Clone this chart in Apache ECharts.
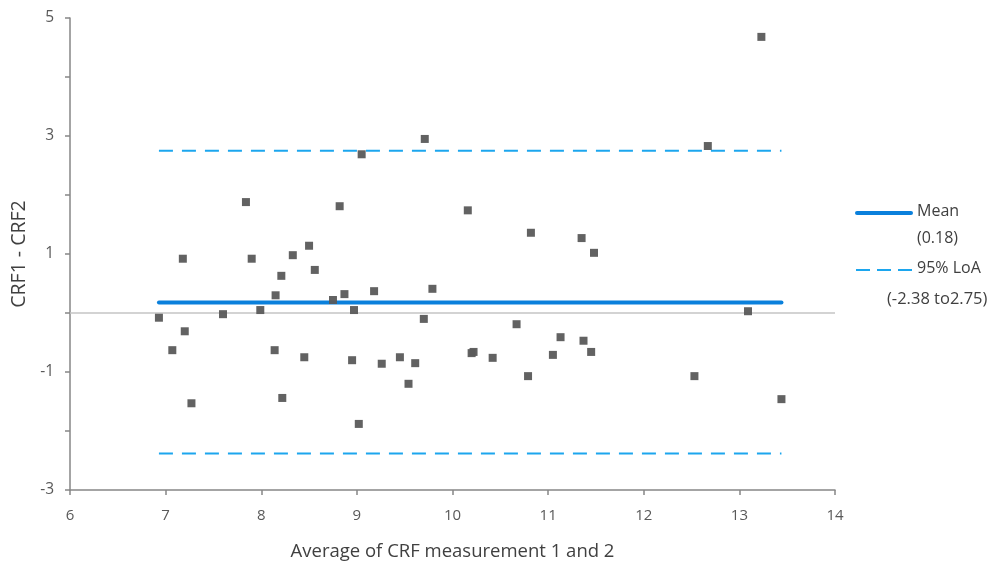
<!DOCTYPE html>
<html>
<head>
<meta charset="utf-8">
<script src="https://cdn.jsdelivr.net/npm/echarts@6/dist/echarts.min.js"></script>
<style>
html,body{margin:0;padding:0;background:#fff;}
#c{width:1005px;height:568px;}
</style>
</head>
<body>
<div id="c"></div>
<script>
// Average of measurement 1 and 2 (x) and difference CRF1 - CRF2 (y)
const avgValues = [6.93,7.07,7.18,7.20,7.27,7.60,7.84,7.90,7.99,8.14,8.15,8.21,8.22,8.33,8.45,8.50,8.56,8.75,8.82,8.87,
  8.95,8.97,9.02,9.05,9.18,9.26,9.45,9.54,9.61,9.71,9.70,9.79,10.16,10.20,10.22,10.42,10.67,10.79,10.82,11.05,
  11.13,11.35,11.37,11.45,11.48,12.53,12.67,13.09,13.23,13.44];
const diffValues = [-0.08,-0.63,0.92,-0.31,-1.53,-0.02,1.88,0.92,0.05,-0.63,0.30,0.63,-1.44,0.98,-0.75,1.14,0.73,0.22,1.81,0.32,
  -0.80,0.05,-1.88,2.69,0.37,-0.86,-0.75,-1.20,-0.85,2.95,-0.10,0.41,1.74,-0.68,-0.66,-0.76,-0.19,-1.07,1.36,-0.71,
  -0.41,1.27,-0.47,-0.66,1.02,-1.07,2.83,0.03,4.68,-1.46];
const meanDiff = 0.18;
const loaLower = -2.38;
const loaUpper = 2.75;
const xTicks = [6,7,8,9,10,11,12,13,14];
const yTicks = [-3,-1,1,3,5];
const legendNames = ['Mean','95% LoA'];
const legendValueTexts = ['(0.18)','(-2.38 to2.75)'];

const points = avgValues.map((x,i)=>[x, diffValues[i]]);
const xMinData = Math.min(...avgValues), xMaxData = Math.max(...avgValues);
const FONT = '"Open Sans", "Noto Sans", sans-serif';
const MEAN_COLOR = '#0a80dc';
const LOA_COLOR = '#1ca6ee';
const TXT = '#404040';

const chart = echarts.init(document.getElementById('c'), null, {renderer:'canvas'});
chart.setOption({
  animation:false,
  backgroundColor:'#ffffff',
  grid:{left:70,right:170,top:18,bottom:78,containLabel:false},
  xAxis:{
    type:'value', min:xTicks[0], max:xTicks[xTicks.length-1], interval:1,
    name:'Average of CRF measurement 1 and 2', nameLocation:'middle', nameGap:52,
    nameTextStyle:{fontFamily:FONT,fontSize:18.5,color:TXT},
    axisLine:{show:true,onZero:false,lineStyle:{color:'#868686',width:1.5}},
    axisTick:{show:true,length:5,lineStyle:{color:'#868686',width:1.5}},
    axisLabel:{margin:18,fontFamily:FONT,fontSize:15,color:'#595959'},
    splitLine:{show:false}
  },
  yAxis:{
    type:'value', min:yTicks[0], max:yTicks[yTicks.length-1], interval:1,
    name:'CRF1 - CRF2', nameLocation:'middle', nameGap:41, nameRotate:90,
    nameTextStyle:{fontFamily:FONT,fontSize:19.5,color:TXT},
    axisLine:{show:true,onZero:false,lineStyle:{color:'#868686',width:1.5}},
    axisTick:{show:true,length:5,lineStyle:{color:'#868686',width:1.5}},
    axisLabel:{margin:16,fontFamily:FONT,fontSize:15.5,color:'#595959',
      formatter:v=> yTicks.includes(Math.round(v)) ? String(Math.round(v)) : ''},
    splitLine:{show:false}
  },
  graphic:[
    {type:'line', shape:{x1:857,y1:213,x2:911,y2:213}, style:{stroke:MEAN_COLOR,lineWidth:4,lineCap:'round'}},
    {type:'text', left:917, top:203, style:{text:legendNames[0], font:'16px '+FONT, fill:TXT}},
    {type:'text', left:917, top:230, style:{text:legendValueTexts[0], font:'16px '+FONT, fill:TXT}},
    {type:'line', shape:{x1:856,y1:270,x2:912,y2:270}, style:{stroke:LOA_COLOR,lineWidth:1.8,lineDash:[14,7]}},
    {type:'text', left:917, top:260, style:{text:legendNames[1], font:'16px '+FONT, fill:TXT}},
    {type:'text', left:887, top:291, style:{text:legendValueTexts[1], font:'16.5px '+FONT, fill:TXT}}
  ],
  series:[
    {
      name:'Mean', type:'line', symbol:'none', z:2,
      data:[[xMinData,meanDiff],[xMaxData,meanDiff]],
      lineStyle:{color:MEAN_COLOR,width:4,cap:'round'},
      markLine:{silent:true,symbol:['none','none'],label:{show:false},
        lineStyle:{color:'#c4c4c4',width:1.5,type:'solid'},data:[{yAxis:0}]}
    },
    {
      name:'95% LoA', type:'line', symbol:'none', z:2,
      data:[[xMinData,loaUpper],[xMaxData,loaUpper]],
      lineStyle:{color:LOA_COLOR,width:2,type:[14,9]}
    },
    {
      name:'95% LoA', type:'line', symbol:'none', z:2,
      data:[[xMinData,loaLower],[xMaxData,loaLower]],
      lineStyle:{color:LOA_COLOR,width:2,type:[14,9]}
    },
    {
      name:'Differences', type:'scatter', z:5,
      symbol:'rect', symbolSize:8,
      itemStyle:{color:'#5a5a5a',opacity:0.95},
      data:points
    }
  ]
});
</script>
</body>
</html>
